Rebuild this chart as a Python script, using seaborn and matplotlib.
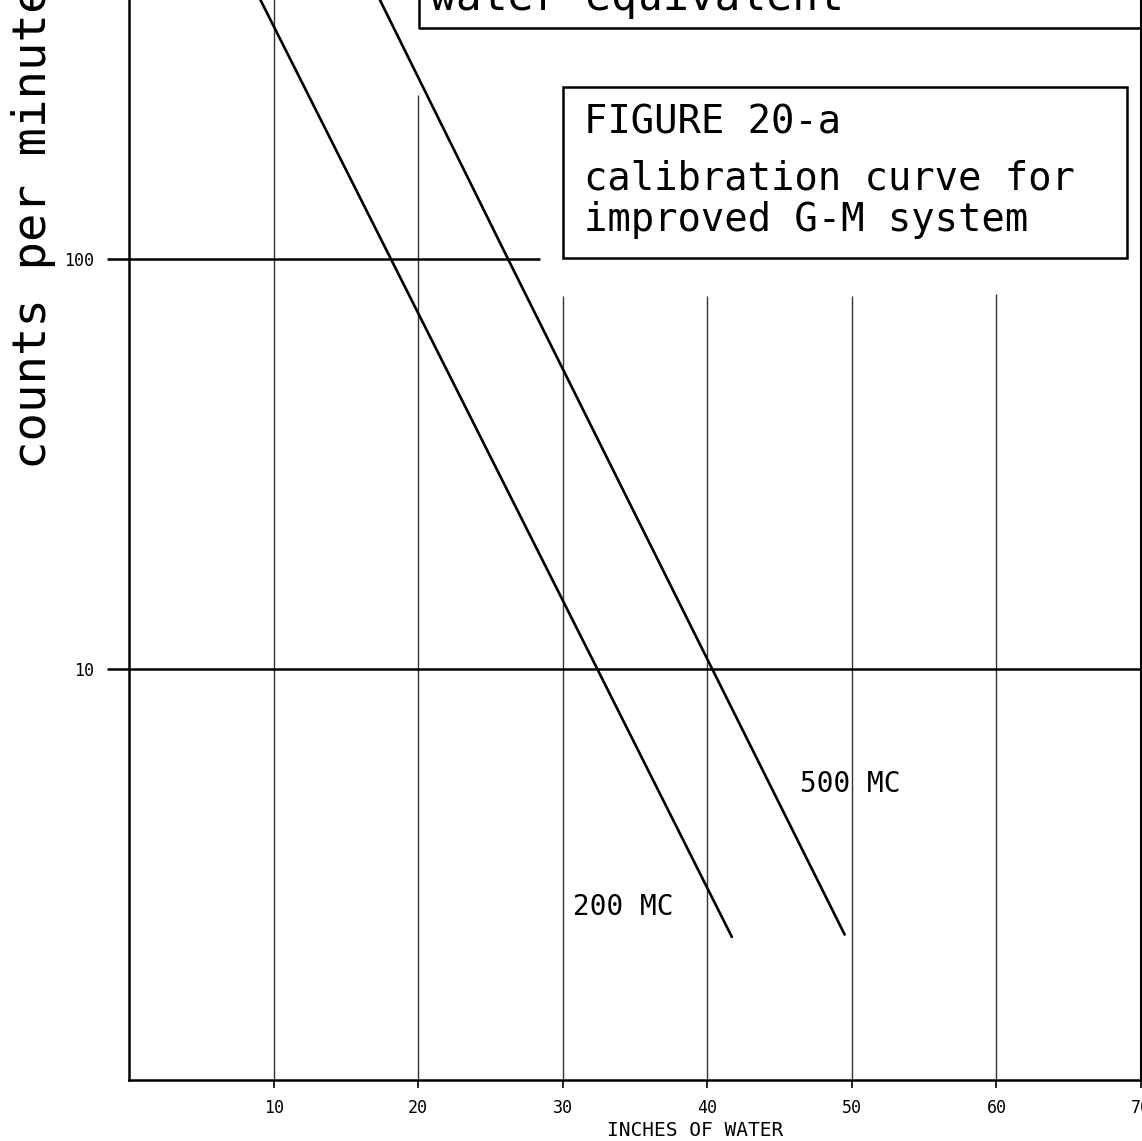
"""Calibration curve for improved G-M system (Figure 20-a), redrawn with seaborn."""

import matplotlib

matplotlib.use("Agg")
import matplotlib.pyplot as plt
import pandas as pd
import seaborn as sns
from matplotlib.patches import Rectangle

# values (inches of water vs counts per minute)
source_labels = ["200 MC", "500 MC"]
inches_200 = [8.1, 18.1, 32.4, 41.7]
counts_200 = [500.0, 100.0, 10.0, 2.23]
inches_500 = [17.3, 26.2, 40.35, 49.5]
counts_500 = [430.0, 100.0, 10.0, 2.26]

x_ticks = [10, 20, 30, 40, 50, 60, 70]
y_ticks = [10, 100]
y_tick_labels = ["10", "100"]

# partial grid lines as drawn on the sheet (top end of each vertical rule)
grid_x = [10, 20, 30, 40, 50, 60]
grid_top = [430, 250, 81, 81, 81, 82]

df = pd.DataFrame({
    "inches": inches_200 + inches_500,
    "counts": counts_200 + counts_500,
    "source": [source_labels[0]] * len(inches_200) + [source_labels[1]] * len(inches_500),
})

sns.set_theme(style="ticks")
# stencil-style lettering: a monospaced face is the closest match
plt.rcParams["font.family"] = ["DejaVu Sans Mono", "DejaVu Sans"]
plt.rcParams["text.color"] = "black"
plt.rcParams["axes.labelcolor"] = "black"
plt.rcParams["xtick.color"] = "black"
plt.rcParams["ytick.color"] = "black"

fig = plt.figure(figsize=(11.42, 11.41), dpi=100)
ax = fig.add_axes([129 / 1142, 61 / 1141, 1012 / 1142, 1080 / 1141])

ax.set_yscale("log")
ax.set_xlim(0, 70)
ax.set_ylim(1.0, 426)

# grid rules
ax.vlines(grid_x, 1.0, grid_top, color="#333333", linewidth=1.0, zorder=1)
ax.axhline(10, color="black", linewidth=1.8, zorder=1)
ax.hlines(100, 0, 28.4, color="black", linewidth=1.8, zorder=1)

sns.lineplot(
    data=df, x="inches", y="counts", hue="source",
    palette={source_labels[0]: "black", source_labels[1]: "black"},
    sort=False, legend=False, linewidth=1.9, ax=ax, zorder=3,
    solid_capstyle="round",
)

# curve labels
ax.text(30.7, 2.64, "200 MC", fontsize=20, va="center", ha="left")
ax.text(46.4, 5.27, "500 MC", fontsize=20, va="center", ha="left")

# title boxes
ax.add_patch(Rectangle((0.429, 0.761), 0.557, 0.158, transform=ax.transAxes,
                       fill=False, edgecolor="black", linewidth=1.8, zorder=4))
title_lines = ["FIGURE 20-a", "calibration curve for", "improved G-M system"]
for line, yb in zip(title_lines, [0.876, 0.825, 0.786]):
    ax.text(0.450, yb, line, transform=ax.transAxes, fontsize=28,
            ha="left", va="baseline", zorder=5)

ax.plot([0.2866, 0.2866, 1.0], [1.05, 0.974, 0.974], transform=ax.transAxes,
        color="black", linewidth=1.8, clip_on=False, zorder=4)
ax.text(0.297, 0.9907, "water equivalent", transform=ax.transAxes, fontsize=31,
        ha="left", va="baseline", clip_on=False, zorder=5)

# axes styling
ax.set_xticks(x_ticks)
ax.set_xticklabels([str(v) for v in x_ticks])
ax.set_yticks(y_ticks)
ax.set_yticklabels(y_tick_labels)
ax.yaxis.set_minor_locator(matplotlib.ticker.NullLocator())
ax.tick_params(axis="y", length=16, width=1.8, pad=9, labelsize=12)
ax.tick_params(axis="x", length=6, width=1.2, pad=8, labelsize=12)

ax.set_xlabel("INCHES OF WATER", fontsize=14)
ax.xaxis.set_label_coords(0.559, -0.038)
ax.set_ylabel("counts per minute", fontsize=34)
ax.yaxis.set_label_coords(-0.072, 0.79)

sns.despine(ax=ax, top=True, right=False)
for side in ["left", "bottom"]:
    ax.spines[side].set_linewidth(1.8)
    ax.spines[side].set_color("black")
ax.spines["right"].set_linewidth(1.5)
ax.spines["right"].set_color("black")

fig.savefig("out.png", dpi=100, facecolor="white")
